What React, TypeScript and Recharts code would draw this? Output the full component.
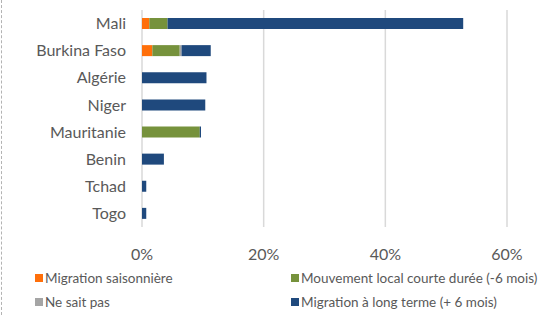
import { Bar, BarChart, CartesianGrid, XAxis, YAxis } from "recharts";

const countries = ["Mali", "Burkina Faso", "Algérie", "Niger", "Mauritanie", "Benin", "Tchad", "Togo"];
const saisonniere = [1.2, 1.7, 0, 0, 0, 0, 0, 0];
const localCourte = [3.0, 4.5, 0, 0, 9.5, 0, 0, 0];
const neSaitPas = [0, 0.3, 0, 0, 0, 0, 0, 0];
const longTerme = [48.6, 4.8, 10.6, 10.4, 0.2, 3.6, 0.7, 0.7];
const xTicks = [0, 20, 40, 60];

const series = [
  { key: "saisonniere", name: "Migration saisonnière", color: "#FF6F0A" },
  { key: "localCourte", name: "Mouvement local courte durée (-6 mois)", color: "#76923C" },
  { key: "neSaitPas", name: "Ne sait pas", color: "#A5A5A5" },
  { key: "longTerme", name: "Migration à long terme (+ 6 mois)", color: "#1F497D" },
];

const data = countries.map((country, i) => ({
  country,
  saisonniere: saisonniere[i],
  localCourte: localCourte[i],
  neSaitPas: neSaitPas[i],
  longTerme: longTerme[i],
}));

const font = "Lato, 'Open Sans', sans-serif";

function LegendBox() {
  return (
    <div
      style={{
        position: "absolute",
        left: 35,
        top: 271,
        display: "grid",
        gridTemplateColumns: "256px 258px",
        rowGap: 10,
        fontFamily: font,
        fontSize: 13.5,
        color: "#595959",
        whiteSpace: "nowrap",
      }}
    >
      {series.map((s) => (
        <div key={s.key} style={{ display: "flex", alignItems: "center", height: 14 }}>
          <span style={{ width: 8, height: 8, background: s.color, marginRight: 2, display: "inline-block" }} />
          <span>{s.name}</span>
        </div>
      ))}
    </div>
  );
}

export default function App() {
  return (
    <div style={{ position: "absolute", left: 0, top: 0, width: 549, height: 315, background: "#fff", overflow: "hidden" }}>
      <div
        style={{
          position: "absolute",
          left: 1,
          top: 0,
          height: 315,
          borderLeft: "1.5px dashed #b3b3b3",
        }}
      />
      <BarChart
        width={549}
        height={315}
        data={data}
        layout="vertical"
        barSize={11}
        margin={{ top: 10, right: 42, bottom: 58, left: 0 }}
      >
        <CartesianGrid horizontal={false} stroke="#d9d9d9" strokeWidth={1.5} />
        <XAxis
          type="number"
          domain={[0, 60]}
          ticks={xTicks}
          tickFormatter={(v) => `${v}%`}
          axisLine={false}
          tickLine={false}
          tickSize={0}
          tickMargin={22}
          height={30}
          tick={{ fontSize: 16, fill: "#595959", fontFamily: font }}
        />
        <YAxis
          type="category"
          dataKey="country"
          width={142}
          axisLine={false}
          tickLine={false}
          tickSize={0}
          tickMargin={16}
          interval={0}
          tick={{ fontSize: 16, fill: "#595959", fontFamily: font }}
        />
        {series.map((s) => (
          <Bar key={s.key} dataKey={s.key} name={s.name} stackId="a" fill={s.color} isAnimationActive={false} />
        ))}
      </BarChart>
      <LegendBox />
    </div>
  );
}
